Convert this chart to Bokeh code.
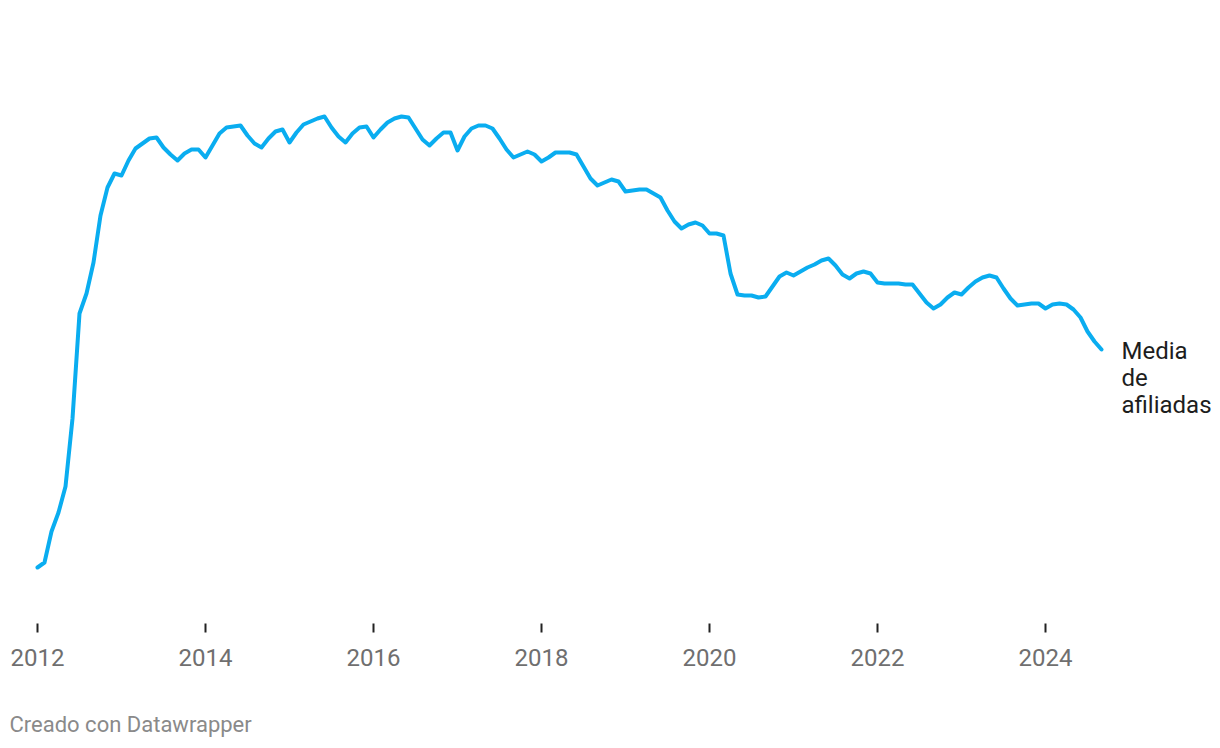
import pandas as pd
from bokeh.plotting import figure
from bokeh.models import FixedTicker, Label, Title, ColumnDataSource, Range1d
from bokeh.embed import file_html
from bokeh.resources import INLINE

# Monthly series, Jan 2012 - Sep 2024 (relative units, no y axis in the original)
start_month = "2012-01"
values_2012 = [56, 61, 92, 111, 137, 205, 310, 330, 361, 408, 436, 450]
values_2013 = [448, 463, 475, 480, 485, 486, 476, 469, 463, 470, 474, 474]
values_2014 = [466, 478, 490, 496, 497, 498, 488, 480, 476, 485, 492, 494]
values_2015 = [481, 491, 499, 502, 505, 507, 496, 487, 481, 490, 496, 497]
values_2016 = [486, 494, 501, 505, 507, 506, 495, 484, 478, 485, 491, 491]
values_2017 = [473, 487, 495, 498, 498, 495, 485, 474, 466, 469, 472, 469]
values_2018 = [462, 466, 471, 471, 471, 469, 457, 445, 438, 441, 444, 442]
values_2019 = [432, 433, 434, 434, 430, 426, 413, 402, 395, 399, 401, 398]
values_2020 = [390, 390, 388, 350, 329, 328, 328, 326, 327, 337, 347, 351]
values_2021 = [348, 352, 356, 359, 363, 365, 358, 349, 345, 350, 352, 350]
values_2022 = [341, 340, 340, 340, 339, 339, 330, 321, 315, 319, 326, 331]
values_2023 = [329, 336, 342, 346, 348, 346, 335, 325, 318, 319, 320, 320]
values_2024 = [315, 319, 320, 319, 314, 306, 292, 282, 274]

tick_years = [2012, 2014, 2016, 2018, 2020, 2022, 2024]
tick_labels = ["2012", "2014", "2016", "2018", "2020", "2022", "2024"]
series_label = ["Media", "de", "afiliadas"]
footer_text = "Creado con Datawrapper"

values = (values_2012 + values_2013 + values_2014 + values_2015 + values_2016 +
          values_2017 + values_2018 + values_2019 + values_2020 + values_2021 +
          values_2022 + values_2023 + values_2024)
dates = pd.date_range(start_month, periods=len(values), freq="MS")
xs = [d.year + (d.month - 1) / 12 for d in dates]

source = ColumnDataSource(data=dict(x=xs, y=values))

W, H = 1216, 748
px_per_year = 84.0
x0_px = 37.0  # pixel position of 2012 within the frame
x_start = 2012 - x0_px / px_per_year
x_end = x_start + W / px_per_year
frame_h = 623

p = figure(width=W, height=H, output_backend="svg", toolbar_location=None,
           x_range=Range1d(x_start, x_end), y_range=Range1d(0, frame_h),
           y_axis_location=None, min_border_left=0, min_border_right=0,
           min_border_top=0, min_border_bottom=H - frame_h)
p.outline_line_color = None
p.grid.visible = False
p.background_fill_color = "white"
p.border_fill_color = "white"

p.line("x", "y", source=source, line_color="#0aadf0", line_width=4,
       line_join="round", line_cap="round")

ax = p.xaxis[0]
ax.ticker = FixedTicker(ticks=tick_years)
ax.major_label_overrides = {t: l for t, l in zip(tick_years, tick_labels)}
ax.axis_line_color = None
ax.minor_tick_line_color = None
ax.major_tick_line_color = "#222222"
ax.major_tick_line_width = 2
ax.major_tick_in = 0
ax.major_tick_out = 9
ax.major_label_standoff = 16
ax.major_label_text_font = "Roboto"
ax.major_label_text_font_size = "24px"
ax.major_label_text_color = "#6f6f6f"

# end-of-line label
line_offsets = [-1, -28, -55]
for txt, off in zip(series_label, line_offsets):
    p.add_layout(Label(x=xs[-1], y=values[-1], text=txt, x_offset=20, y_offset=off,
                       text_font="Roboto", text_font_size="24px",
                       text_color="#1d1d1d", text_baseline="alphabetic",
                       text_align="left"))

# spacer + footer note below the axis
spacer = Title(text=" ", align="left", standoff=40, text_font_size="1px")
p.add_layout(spacer, "below")
footer = Title(text=footer_text, align="left", offset=9, standoff=0,
               vertical_align="top",
               text_font="Roboto", text_font_size="22px",
               text_font_style="normal", text_color="#8a8a8a")
p.add_layout(footer, "below")

open("out.html", "w").write(file_html(p, INLINE))
